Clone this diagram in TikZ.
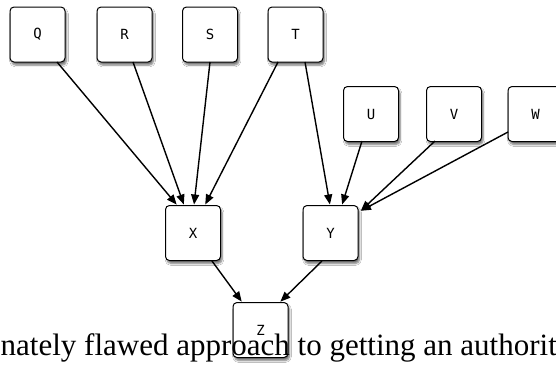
\documentclass[tikz,border=0pt]{standalone}
\usepackage{fontspec}
\setmainfont{Liberation Serif}
\newfontfamily\boxfont{DejaVu Sans Mono}
\usetikzlibrary{arrows.meta,calc,shadows.blur}
\tikzset{
  gbox/.style={draw=black, line width=1pt, fill=white, rounded corners=4pt,
    minimum width=55pt, minimum height=55pt, inner sep=0pt,
    font=\boxfont\fontsize{14}{15}\selectfont,
    blur shadow={shadow xshift=1.5pt, shadow yshift=-3pt, shadow blur steps=6, shadow opacity=55}},
  link/.style={line width=1.4pt, -{Triangle[length=10pt,width=8pt]}, shorten >=0.5pt}
}
\begin{document}
\begin{tikzpicture}[x=1pt,y=-1pt]
\clip (0,0) rectangle (556,368);
\fill[white] (0,0) rectangle (556,368);
% nodes
\node[gbox] (Q) at (37.5,34.5) {Q};
\node[gbox] (R) at (124.5,34.5) {R};
\node[gbox] (S) at (210,34.5) {S};
\node[gbox] (T) at (295.5,34.5) {T};
\node[gbox] (U) at (371,114) {U};
\node[gbox] (V) at (454,114) {V};
\node[gbox] (W) at (535.5,114) {W};
\node[gbox] (X) at (193,233) {X};
\node[gbox] (Y) at (330.5,233) {Y};
\node[gbox] (Z) at (260.5,330) {Z};
% edges
\draw[link] ($(Q.center)+(19.5,27.5)$) -- ($(X.center)+(-16,-28)$);
\draw[link] ($(R.center)+(8.5,27.5)$) -- ($(X.center)+(-9,-28)$);
\draw[link] ($(S.center)+(0,27.5)$) -- ($(X.center)+(1,-28)$);
\draw[link] ($(T.center)+(-17.5,27.5)$) -- ($(X.center)+(12,-28)$);
\draw[link] ($(T.center)+(9.5,27.5)$) -- ($(Y.center)+(-0.5,-28)$);
\draw[link] ($(U.center)+(-9,27)$) -- ($(Y.center)+(11.5,-28)$);
\draw[link] ($(V.center)+(-19,27)$) -- ($(Y.center)+(30,-22)$);
\draw[link] ($(W.center)+(-27.5,18)$) -- ($(Y.center)+(30,-22)$);
\draw[link] ($(X.center)+(19,28)$) -- ($(Z.center)+(-18.5,-28)$);
\draw[link] ($(Y.center)+(-8.5,28)$) -- ($(Z.center)+(19.5,-28)$);
% caption text
\node[anchor=base west, inner sep=0pt, font=\fontsize{31}{34}\selectfont] (cap) at (0.5,355) {nately flawed approach to getting an authorit};
\end{tikzpicture}
\end{document}
